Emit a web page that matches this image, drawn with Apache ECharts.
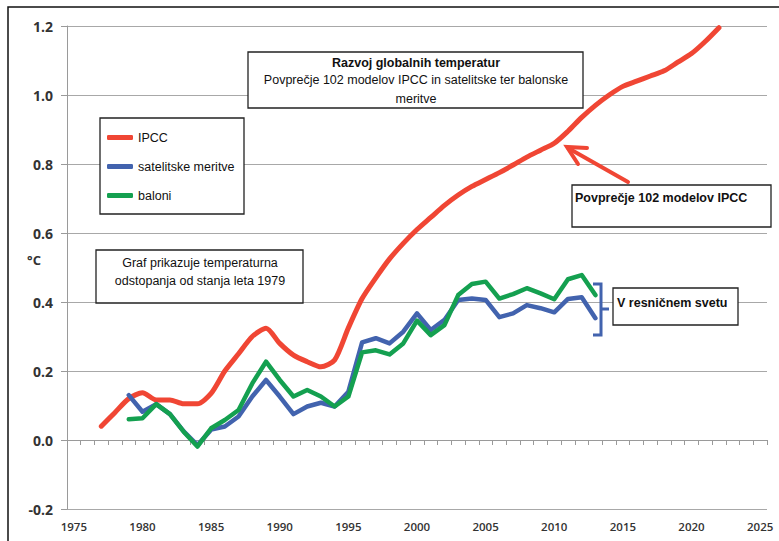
<!DOCTYPE html>
<html>
<head>
<meta charset="utf-8">
<script src="https://cdn.jsdelivr.net/npm/echarts@6/dist/echarts.min.js"></script>
<style>
html,body{margin:0;padding:0;background:#fff;}
#chart{width:779px;height:541px;}
</style>
</head>
<body>
<div id="chart"></div>
<script>
// ---- data ----
const years = [];
for (let y = 1975; y <= 2025; y++) years.push(String(y));

const yTicks = [-0.2, 0, 0.2, 0.4, 0.6, 0.8, 1.0, 1.2];

// IPCC: 1975..2022
const ipcc = [null, null, 0.04, 0.08, 0.12, 0.137, 0.116, 0.116, 0.105, 0.105,
  0.135, 0.2, 0.25, 0.3, 0.324, 0.28, 0.246, 0.227, 0.212, 0.232,
  0.325, 0.41, 0.47, 0.525, 0.57, 0.61, 0.645, 0.68, 0.71, 0.735,
  0.755, 0.775, 0.797, 0.82, 0.84, 0.86, 0.895, 0.935, 0.97, 1.0,
  1.025, 1.04, 1.055, 1.07, 1.095, 1.12, 1.155, 1.195];

// satelitske meritve: 1975..2013
const satellite = [null, null, null, null, 0.13, 0.082, 0.104, 0.075, 0.025, -0.015,
  0.03, 0.039, 0.068, 0.126, 0.174, 0.126, 0.075, 0.097, 0.108, 0.097,
  0.14, 0.283, 0.295, 0.28, 0.314, 0.367, 0.319, 0.348, 0.406, 0.41,
  0.406, 0.356, 0.367, 0.391, 0.382, 0.37, 0.409, 0.414, 0.353];

// baloni: 1975..2013
const balloons = [null, null, null, null, 0.06, 0.063, 0.104, 0.075, 0.024, -0.019,
  0.034, 0.058, 0.087, 0.164, 0.227, 0.174, 0.126, 0.145, 0.126, 0.097,
  0.126, 0.254, 0.26, 0.248, 0.28, 0.346, 0.304, 0.333, 0.42, 0.452,
  0.459, 0.41, 0.423, 0.44, 0.425, 0.408, 0.466, 0.478, 0.42];

const seriesNames = ['IPCC', 'satelitske meritve', 'baloni'];
const colors = ['#f04634', '#4263ae', '#14a050'];

const chart = echarts.init(document.getElementById('chart'), null, {renderer: 'svg'});
const font = '"Liberation Sans", Arial, Helvetica, sans-serif';
const boxStroke = '#222';

const option = {
  backgroundColor: '#fff',
  animation: false,
  grid: {left: 67, right: 12, top: 26, bottom: 32, containLabel: false},
  xAxis: {
    type: 'category',
    data: years,
    boundaryGap: true,
    axisLine: {lineStyle: {color: '#9a9a9a', width: 1}},
    axisTick: {show: true, interval: 0, length: 5, lineStyle: {color: '#9a9a9a'}},
    axisLabel: {interval: 4, margin: 11, color: '#333', fontSize: 11.5, fontWeight: 600, fontFamily: '"Open Sans", sans-serif'},
    splitLine: {show: false}
  },
  yAxis: {
    type: 'value',
    min: yTicks[0], max: yTicks[yTicks.length - 1], interval: 0.2,
    axisLine: {show: true, lineStyle: {color: '#9a9a9a', width: 1}},
    axisTick: {show: true, length: 6, lineStyle: {color: '#9a9a9a'}},
    axisLabel: {margin: 14, color: '#333', fontSize: 14, fontWeight: 'bold', fontFamily: '"Open Sans", sans-serif',
      formatter: v => v.toFixed(1)},
    splitLine: {show: true, lineStyle: {color: '#a8a8a8', width: 1}}
  },
  legend: {
    orient: 'vertical',
    left: 102, top: 126,
    itemWidth: 26, itemHeight: 5, itemGap: 16,
    icon: 'roundRect',
    textStyle: {fontFamily: font, fontSize: 12.5, color: '#111'},
    data: seriesNames
  },
  series: [
    {name: seriesNames[0], type: 'line', data: ipcc, smooth: 0.25, showSymbol: false, symbol: 'none',
      lineStyle: {color: colors[0], width: 5, cap: 'round', join: 'round'}, itemStyle: {color: colors[0]}, z: 2},
    {name: seriesNames[1], type: 'line', data: satellite, showSymbol: false, symbol: 'none',
      lineStyle: {color: colors[1], width: 4.5, cap: 'round', join: 'round'}, itemStyle: {color: colors[1]}, z: 3},
    {name: seriesNames[2], type: 'line', data: balloons, showSymbol: false, symbol: 'none',
      lineStyle: {color: colors[2], width: 4.5, cap: 'round', join: 'round'}, itemStyle: {color: colors[2]}, z: 4}
  ],
  graphic: [
    // outer frame (top and left edges)
    {type: 'polyline', z: 10, shape: {points: [[8, 541], [8, 7], [779, 7]]}, style: {stroke: '#111', lineWidth: 1.5, fill: null}},
    // y unit
    {type: 'text', z: 10, x: 34, y: 260, style: {text: '°C', font: 'bold 13px "Open Sans", sans-serif', fill: '#333', textAlign: 'center', textVerticalAlign: 'middle'}},
    // legend box
    {type: 'rect', z: 1, shape: {x: 100, y: 118, width: 144, height: 96}, style: {fill: '#fff', stroke: boxStroke, lineWidth: 1.3}},
    // title box
    {type: 'rect', z: 10, shape: {x: 248, y: 52, width: 335, height: 56}, style: {fill: '#fff', stroke: boxStroke, lineWidth: 1.3}},
    {type: 'text', z: 11, x: 416, y: 63, style: {text: 'Razvoj globalnih temperatur', font: 'bold 12.5px ' + font, fill: '#111', textAlign: 'center', textVerticalAlign: 'middle'}},
    {type: 'text', z: 11, x: 416, y: 80, style: {text: 'Povprečje 102 modelov IPCC in satelitske ter balonske', font: '12.5px ' + font, fill: '#111', textAlign: 'center', textVerticalAlign: 'middle'}},
    {type: 'text', z: 11, x: 416, y: 99, style: {text: 'meritve', font: '12.5px ' + font, fill: '#111', textAlign: 'center', textVerticalAlign: 'middle'}},
    // note box
    {type: 'rect', z: 10, shape: {x: 96, y: 250, width: 207, height: 53}, style: {fill: '#fff', stroke: boxStroke, lineWidth: 1.3}},
    {type: 'text', z: 11, x: 200, y: 263, style: {text: 'Graf prikazuje temperaturna', font: '12.5px ' + font, fill: '#111', textAlign: 'center', textVerticalAlign: 'middle'}},
    {type: 'text', z: 11, x: 200, y: 281, style: {text: 'odstopanja od stanja leta 1979', font: '12.5px ' + font, fill: '#111', textAlign: 'center', textVerticalAlign: 'middle'}},
    // IPCC annotation box
    {type: 'rect', z: 10, shape: {x: 572, y: 185, width: 199, height: 42}, style: {fill: '#fff', stroke: boxStroke, lineWidth: 1.3}},
    {type: 'text', z: 11, x: 575, y: 198, style: {text: 'Povprečje 102 modelov IPCC', font: 'bold 12.5px ' + font, fill: '#111', textAlign: 'left', textVerticalAlign: 'middle'}},
    // red arrow
    {type: 'polyline', z: 12, shape: {points: [[628, 182], [568, 148]]}, style: {stroke: colors[0], lineWidth: 4, lineCap: 'round', fill: null}},
    {type: 'polyline', z: 12, shape: {points: [[578, 164], [567, 147], [587, 148]]}, style: {stroke: colors[0], lineWidth: 4, lineCap: 'round', lineJoin: 'miter', fill: null}},
    // real-world box
    {type: 'rect', z: 10, shape: {x: 613, y: 288, width: 125, height: 37}, style: {fill: '#fff', stroke: boxStroke, lineWidth: 1.3}},
    {type: 'text', z: 11, x: 617, y: 303, style: {text: 'V resničnem svetu', font: 'bold 12.5px ' + font, fill: '#111', textAlign: 'left', textVerticalAlign: 'middle'}},
    // blue bracket
    {type: 'polyline', z: 12, shape: {points: [[593, 284], [601, 284], [601, 335], [593, 335]]}, style: {stroke: colors[1], lineWidth: 3, fill: null}},
    {type: 'polyline', z: 12, shape: {points: [[601, 309], [609, 309]]}, style: {stroke: colors[1], lineWidth: 3, fill: null}}
  ]
};
chart.setOption(option);
</script>
</body>
</html>
